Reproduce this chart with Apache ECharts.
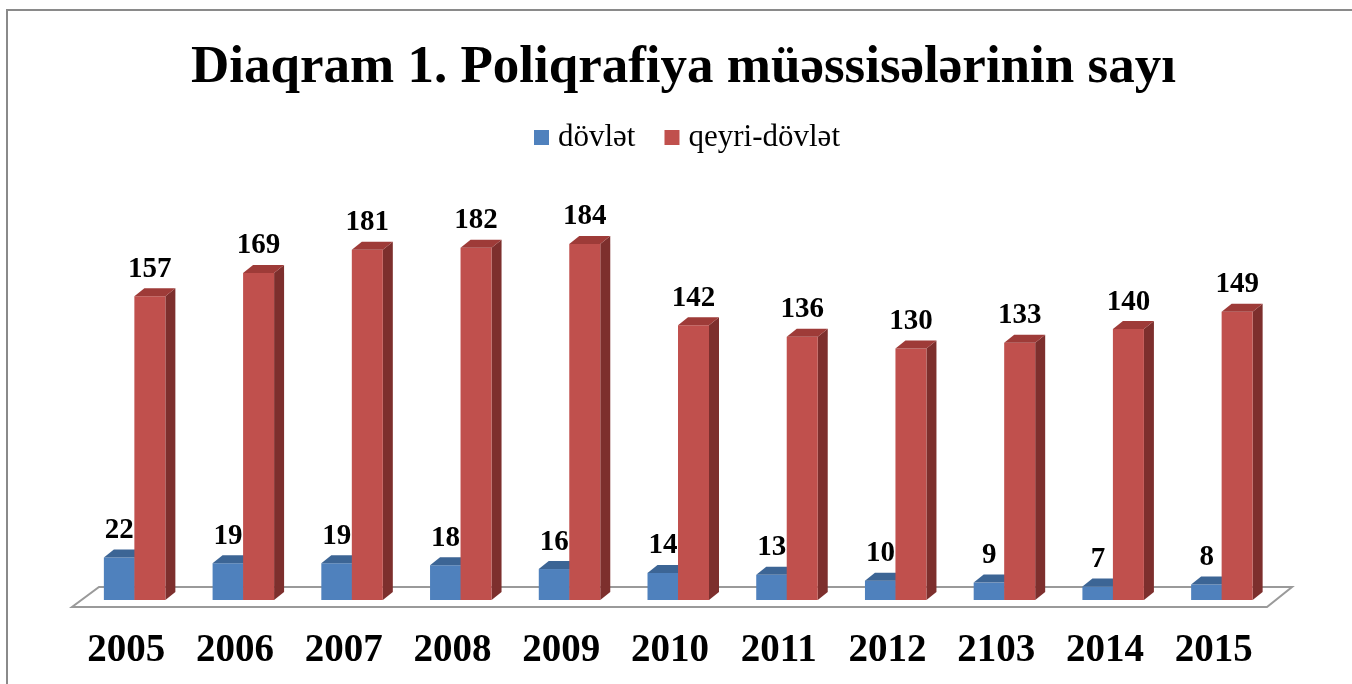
<!DOCTYPE html>
<html>
<head>
<meta charset="utf-8">
<script src="https://cdn.jsdelivr.net/npm/echarts@6/dist/echarts.min.js"></script>
<style>
  html, body { margin: 0; padding: 0; background: #fff; }
  #view { width: 1352px; height: 684px; }
</style>
</head>
<body>
<div id="view"></div>
<script>
var years = ['2005', '2006', '2007', '2008', '2009', '2010', '2011', '2012', '2103', '2014', '2015'];
var dovlet = [22, 19, 19, 18, 16, 14, 13, 10, 9, 7, 8];
var qeyriDovlet = [157, 169, 181, 182, 184, 142, 136, 130, 133, 140, 149];

var serif = "'Liberation Serif', 'Times New Roman', serif";
var depthX = 10, depthY = -8, barW = 31;

// 3D-looking bar: front face, top face, right side face, label on top
function bar3d(colors, side) {
    return function (params, api) {
        var i = api.value(0), v = api.value(1);
        var top = api.coord([i, v]);
        var base = api.coord([i, 0]);
        var c = top[0];
        var x0 = side < 0 ? c - barW + 0.5 : c;
        var x1 = x0 + barW;
        var ty = top[1], by = base[1];
        return {
            type: 'group',
            children: [
                { type: 'polygon', shape: { points: [[x1, ty], [x1 + depthX, ty + depthY], [x1 + depthX, by + depthY], [x1, by]] },
                  style: { fill: colors[2] } },
                { type: 'rect', shape: { x: x0, y: ty, width: barW, height: by - ty },
                  style: { fill: colors[0] } },
                { type: 'polygon', shape: { points: [[x0, ty], [x1, ty], [x1 + depthX, ty + depthY], [x0 + depthX, ty + depthY]] },
                  style: { fill: colors[1] } },
                { type: 'text', x: (x0 + x1) / 2, y: ty - 27,
                  style: { text: String(v), fill: '#000', font: 'bold 29px ' + serif, align: 'center', verticalAlign: 'middle' } }
            ]
        };
    };
}

var myChart = echarts.init(document.getElementById('view'));

var option = {
    animation: false,
    backgroundColor: '#fff',
    title: {
        text: 'Diaqram 1. Poliqrafiya müəssisələrinin sayı',
        left: 191,
        top: 42,
        padding: 0,
        textStyle: { fontFamily: serif, fontWeight: 'bold', fontSize: 53, color: '#000' }
    },
    legend: {
        left: 534,
        top: 122,
        padding: 0,
        itemWidth: 15,
        itemHeight: 15,
        itemGap: 29,
        icon: 'rect',
        textStyle: { fontFamily: serif, fontSize: 31, color: '#000', padding: [0, 0, 0, 4] },
        data: ['dövlət', 'qeyri-dövlət']
    },
    graphic: [{
        type: 'rect',
        shape: { x: 7, y: 10, width: 1400, height: 800 },
        style: { fill: null, stroke: '#8a8a8a', lineWidth: 2 },
        silent: true
    }],
    grid: { left: 80, right: 76, top: 213, bottom: 84 },
    xAxis: {
        type: 'category',
        data: years,
        axisLine: { show: false },
        axisTick: { show: false },
        axisLabel: { margin: 31, padding: [0, 16, 0, 0], fontFamily: serif, fontWeight: 'bold', fontSize: 39, color: '#000' }
    },
    yAxis: {
        type: 'value',
        min: 0,
        max: 200,
        show: false,
        splitLine: { show: false }
    },
    series: [
        {
            name: 'floor',
            type: 'custom',
            silent: true,
            z: 1,
            data: [[0, 0]],
            renderItem: function (params, api) {
                var cs = params.coordSys;
                var by = cs.y + cs.height;
                var gl = cs.x, gr = cs.x + cs.width;
                return {
                    type: 'polygon',
                    shape: { points: [[gl - 8, by + 7], [gr - 9, by + 7], [gr + 16, by - 13], [gl + 19, by - 13]] },
                    style: { fill: '#fff', stroke: '#9a9a9a', lineWidth: 2 }
                };
            }
        },
        {
            name: 'dövlət',
            type: 'custom',
            z: 2,
            itemStyle: { color: '#4F81BD' },
            data: dovlet.map(function (v, i) { return [i, v]; }),
            renderItem: bar3d(['#4F81BD', '#3C6595', '#2F5080'], -1)
        },
        {
            name: 'qeyri-dövlət',
            type: 'custom',
            z: 3,
            itemStyle: { color: '#C0504D' },
            data: qeyriDovlet.map(function (v, i) { return [i, v]; }),
            renderItem: bar3d(['#C0504D', '#9E3B38', '#7D2F2D'], 1)
        }
    ]
};

myChart.setOption(option);
</script>
</body>
</html>
